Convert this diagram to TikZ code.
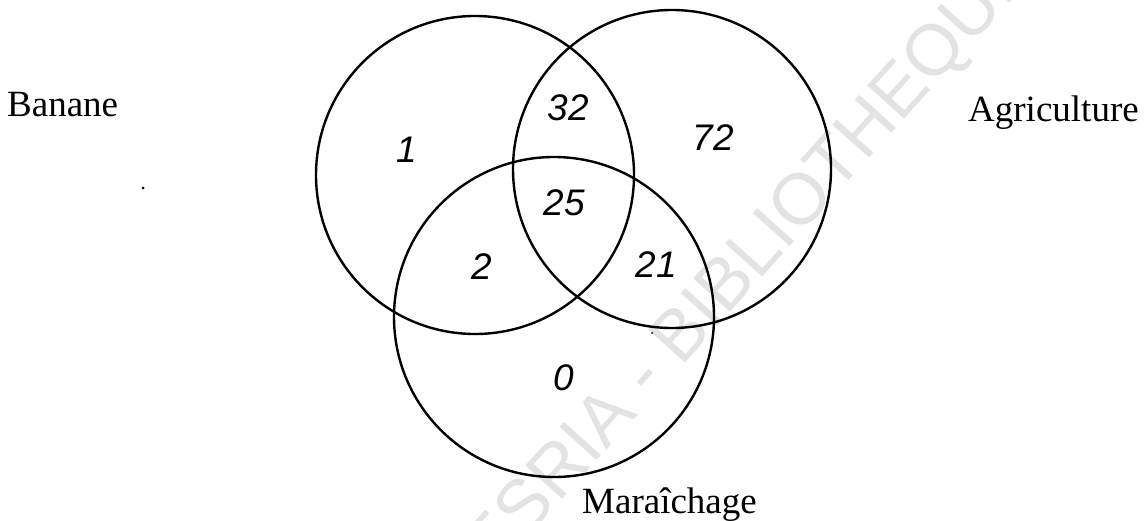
\documentclass[tikz,border=0pt]{standalone}
\usepackage{fontspec}
\setmainfont{Liberation Serif}
\newfontfamily\wmfont{Liberation Sans}
\newfontfamily\handfont{Liberation Sans}
\begin{document}
\begin{tikzpicture}[x=1pt,y=-1pt,
  setcircle/.style={circle,draw=black,line width=2.4pt,inner sep=0pt},
  setlabel/.style={anchor=base west,inner sep=0pt,font=\fontsize{37}{40}\selectfont},
  count/.style={inner sep=0pt,font=\handfont\itshape\fontsize{37}{40}\selectfont},
  speck/.style={circle,fill=black,inner sep=0pt,minimum size=3pt}]
\useasboundingbox (0,0) rectangle (1145,521);
\begin{scope}
\clip (0,0) rectangle (1145,521);
\node[anchor=base,rotate=48,inner sep=0pt,text=black!11,font=\wmfont\fontsize{72}{76}\selectfont] (wm) at (712,333) {CODESRIA - BIBLIOTHEQUE};
\end{scope}
\node[setcircle,minimum size=318pt] (B) at (475,175) {};
\node[setcircle,minimum size=318pt] (A) at (672,169) {};
\node[setcircle,minimum size=320pt] (M) at (554,317) {};
\node[setlabel] (lb) at (7,117) {Banane};
\node[setlabel] (la) at (968,122) {Agriculture};
\node[setlabel] (lm) at (582,513) {Maraîchage};
\node[count] (n1) at (407,150) {1};
\node[count] (n32) at (568,108) {32};
\node[count] (n72) at (713,138) {72};
\node[count] (n25) at (564,203) {25};
\node[count] (n2) at (482,267) {2};
\node[count] (n21) at (656,265) {21};
\node[count] (n0) at (564,378) {0};
\node[speck] (d1) at (143,188) {};
\node[speck,minimum size=2pt] (d2) at (652,333) {};
\end{tikzpicture}
\end{document}
